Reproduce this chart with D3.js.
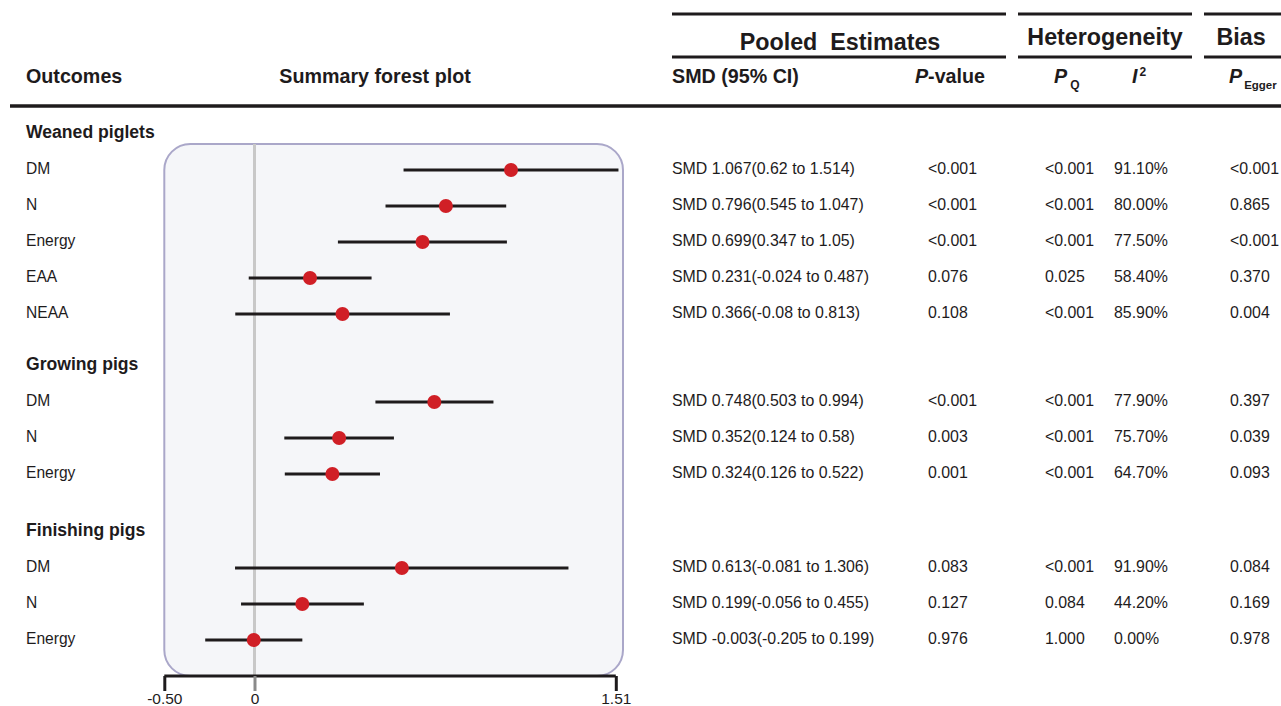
<!DOCTYPE html>
<html>
<head>
<meta charset="utf-8">
<script src="https://cdn.jsdelivr.net/npm/d3@7"></script>
<style>
  html, body { margin: 0; padding: 0; background: #fff; }
  svg { display: block; font-family: "Liberation Sans", Arial, sans-serif; }
</style>
</head>
<body>
<svg id="chart" width="1281" height="706"></svg>
<script>
// ---------------- DATA ----------------
const groups = ["Weaned piglets", "Growing pigs", "Finishing pigs"];
const groupOf = [0, 0, 0, 0, 0, 1, 1, 1, 2, 2, 2];
const outcomes = ["DM", "N", "Energy", "EAA", "NEAA", "DM", "N", "Energy", "DM", "N", "Energy"];
const smd = [1.067, 0.796, 0.699, 0.231, 0.366, 0.748, 0.352, 0.324, 0.613, 0.199, -0.003];
const ciLower = [0.62, 0.545, 0.347, -0.024, -0.08, 0.503, 0.124, 0.126, -0.081, -0.056, -0.205];
const ciUpper = [1.514, 1.047, 1.05, 0.487, 0.813, 0.994, 0.58, 0.522, 1.306, 0.455, 0.199];
const pValue = ["<0.001", "<0.001", "<0.001", "0.076", "0.108", "<0.001", "0.003", "0.001", "0.083", "0.127", "0.976"];
const pQ = ["<0.001", "<0.001", "<0.001", "0.025", "<0.001", "<0.001", "<0.001", "<0.001", "<0.001", "0.084", "1.000"];
const i2 = [91.1, 80.0, 77.5, 58.4, 85.9, 77.9, 75.7, 64.7, 91.9, 44.2, 0.0];
const pEgger = ["<0.001", "0.865", "<0.001", "0.370", "0.004", "0.397", "0.039", "0.093", "0.084", "0.169", "0.978"];
const axisTicks = [-0.5, 0, 1.51];
const axisTickLabels = ["-0.50", "0", "1.51"];

// ---------------- LAYOUT ----------------
const svg = d3.select("#chart");
const ink = "#1e1b1c";
const red = "#d01f26";

// data scale (linear) and axis scale (as printed on the figure)
const x = d3.scaleLinear().domain([0, 1.51]).range([254.5, 617.5]);
const xAxisScale = d3.scaleLinear().domain(axisTicks).range([164.3, 254.5, 615.8]);

const groupY = [132, 364, 530];
const firstOffset = 38, rowStep = 36;
const rowY = outcomes.map((d, i) => {
  const g = groupOf[i];
  const k = groupOf.slice(0, i).filter(v => v === g).length;
  return groupY[g] + firstOffset + rowStep * k;
});

const axisY = 676;
const boxTop = 144;

// ---------------- HEADER ----------------
const lineW = 3;
const hdrSpans = [[672, 1006, "Pooled  Estimates", 840, 42],
                  [1018, 1192, "Heterogeneity", 1105, 37],
                  [1204, 1281, "Bias", 1241, 37]];
hdrSpans.forEach(([x0, x1, label, cx, cy]) => {
  svg.append("line").attr("x1", x0).attr("x2", x1).attr("y1", 14).attr("y2", 14)
    .attr("stroke", ink).attr("stroke-width", lineW);
  svg.append("line").attr("x1", x0).attr("x2", x1).attr("y1", 57).attr("y2", 57)
    .attr("stroke", ink).attr("stroke-width", lineW);
  svg.append("text").attr("x", cx).attr("y", cy).attr("text-anchor", "middle")
    .attr("dominant-baseline", "central").attr("font-size", 23.3).attr("font-weight", "bold")
    .attr("fill", ink).style("white-space", "pre").text(label);
});
svg.append("line").attr("x1", 10).attr("x2", 1281).attr("y1", 106).attr("y2", 106)
  .attr("stroke", ink).attr("stroke-width", 3.5);

const colHdrY = 83;
function hdrText(xp, anchor) {
  return svg.append("text").attr("x", xp).attr("y", colHdrY).attr("text-anchor", anchor)
    .attr("font-size", 19.7).attr("font-weight", "bold").attr("fill", ink);
}
hdrText(26, "start").text("Outcomes");
hdrText(375, "middle").text("Summary forest plot");
hdrText(672, "start").text("SMD (95% CI)");
const pv = hdrText(985, "end");
pv.append("tspan").attr("font-style", "italic").text("P");
pv.append("tspan").text("-value");
const pq = hdrText(1054, "start");
pq.append("tspan").attr("font-style", "italic").text("P");
pq.append("tspan").attr("font-size", 12).attr("dy", 6).attr("dx", 3).text("Q");
const ii = hdrText(1132, "start");
ii.append("tspan").attr("font-style", "italic").text("I");
ii.append("tspan").attr("font-size", 12).attr("dy", -7).attr("dx", 2).text("2");
const pe = hdrText(1229, "start");
pe.append("tspan").attr("font-style", "italic").text("P");
pe.append("tspan").attr("font-size", 11.5).attr("dy", 6).attr("dx", 2).text("Egger");

// ---------------- LEFT LABELS ----------------
svg.selectAll("text.group").data(groups).join("text").attr("class", "group")
  .attr("x", 26).attr("y", (d, i) => groupY[i]).attr("dominant-baseline", "central")
  .attr("font-size", 17.6).attr("font-weight", "bold").attr("fill", ink).text(d => d);

svg.selectAll("text.outcome").data(outcomes).join("text").attr("class", "outcome")
  .attr("x", 26).attr("y", (d, i) => rowY[i] - 2).attr("dominant-baseline", "central")
  .attr("font-size", 15.6).attr("fill", ink).text(d => d);

// ---------------- FOREST PANEL ----------------
const boxLeft = xAxisScale(-0.5);
const boxRight = x(1.51) + 5.5;
svg.append("rect").attr("x", boxLeft).attr("y", boxTop)
  .attr("width", boxRight - boxLeft).attr("height", axisY - boxTop)
  .attr("rx", 26).attr("ry", 26)
  .attr("fill", "#f5f6f9").attr("stroke", "#aaa7c9").attr("stroke-width", 2);

svg.append("line").attr("x1", x(0)).attr("x2", x(0)).attr("y1", boxTop).attr("y2", axisY)
  .attr("stroke", "#c8c8c8").attr("stroke-width", 3);

svg.selectAll("line.ci").data(smd).join("line").attr("class", "ci")
  .attr("x1", (d, i) => x(ciLower[i])).attr("x2", (d, i) => x(ciUpper[i]))
  .attr("y1", (d, i) => rowY[i]).attr("y2", (d, i) => rowY[i])
  .attr("stroke", ink).attr("stroke-width", 3);

svg.selectAll("circle.pt").data(smd).join("circle").attr("class", "pt")
  .attr("cx", d => x(d)).attr("cy", (d, i) => rowY[i]).attr("r", 7)
  .attr("fill", red);

// axis
const axis = d3.axisBottom(xAxisScale).tickValues(axisTicks)
  .tickFormat((d, i) => axisTickLabels[i]).tickSize(15).tickPadding(2);
const ag = svg.append("g").attr("transform", `translate(0,${axisY})`).call(axis);
ag.attr("font-size", 15.5).attr("font-family", "Liberation Sans, Arial, sans-serif");
ag.select(".domain").attr("stroke", ink).attr("stroke-width", 3)
  .attr("d", `M${xAxisScale(-0.5)},0H${xAxisScale(1.51)}`);
ag.selectAll(".tick line").attr("stroke", (d) => d === 0 ? "#8a8a8a" : ink).attr("stroke-width", 3);
ag.selectAll(".tick text").attr("fill", ink);

// ---------------- TABLE COLUMNS ----------------
const fmt = v => String(v);
const colSpecs = [
  {x: 672, text: (i) => `SMD ${fmt(smd[i])}(${fmt(ciLower[i])} to ${fmt(ciUpper[i])})`},
  {x: 928, text: (i) => pValue[i]},
  {x: 1045, text: (i) => pQ[i]},
  {x: 1114, text: (i) => i2[i].toFixed(2) + "%"},
  {x: 1230, text: (i) => pEgger[i]}
];
colSpecs.forEach((c, ci) => {
  svg.selectAll(`text.col${ci}`).data(outcomes).join("text").attr("class", `col${ci}`)
    .attr("x", c.x).attr("y", (d, i) => rowY[i] - 2).attr("dominant-baseline", "central")
    .attr("font-size", 15.9).attr("fill", ink).text((d, i) => c.text(i));
});
</script>
</body>
</html>
